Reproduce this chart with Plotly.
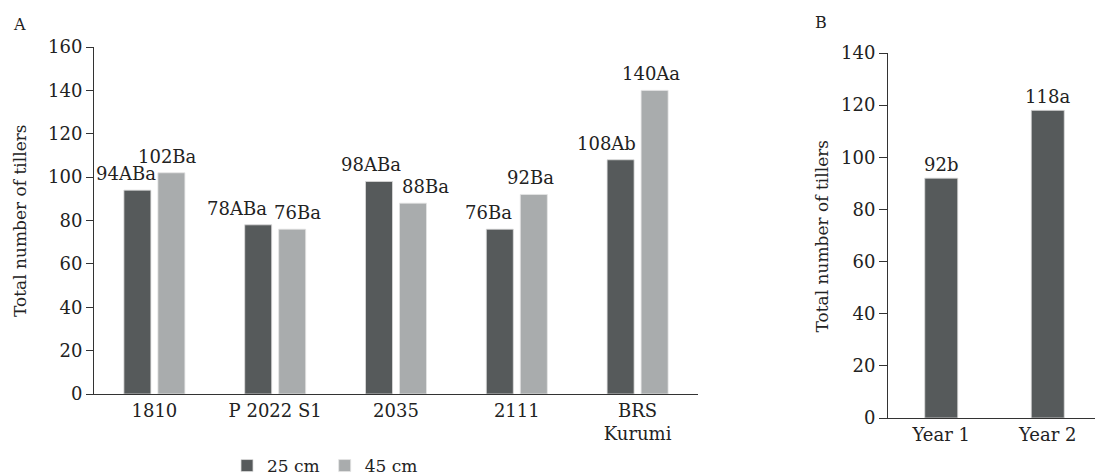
import plotly.graph_objects as go

# Panel A data
cultivars = ["1810", "P 2022 S1", "2035", "2111", "BRS<br>Kurumi"]
tillers_25cm = [94, 78, 98, 76, 108]
tillers_45cm = [102, 76, 88, 92, 140]
labels_25cm = ["94ABa", "78ABa", "98ABa", "76Ba", "108Ab"]
labels_45cm = ["102Ba", "76Ba", "88Ba", "92Ba", "140Aa"]

# Panel B data
years = ["Year 1", "Year 2"]
tillers_year = [92, 118]
labels_year = ["92b", "118a"]

# page body has an 8px margin -> figure is drawn at (8, 8)
OFF = 8
W, H = 1103 - OFF, 475 - OFF


def fx(px):
    return (px - OFF) / W


def fy(py):
    return 1 - (py - OFF) / H


FONT = "DejaVu Serif"
DARK = "#565a5b"
LIGHT = "#a9acad"
AXIS = "#333333"
TXT = "#222222"

# horizontal nudges of the panel A value labels (px, styling only)
shift_25 = [-28, -38, -25, -28, -31]
shift_45 = [13, 22, 29, 14, 13]

fig = go.Figure()
fig.add_trace(go.Bar(x=cultivars, y=tillers_25cm, name="25 cm",
                     marker=dict(color=DARK, line=dict(color="#dcdcdc", width=0.8)),
                     xaxis="x", yaxis="y"))
fig.add_trace(go.Bar(x=cultivars, y=tillers_45cm, name="45 cm",
                     marker=dict(color=LIGHT, line=dict(color="#e4e4e4", width=0.8)),
                     xaxis="x", yaxis="y"))
fig.add_trace(go.Bar(x=years, y=tillers_year, name="B", showlegend=False,
                     width=0.31, text=labels_year, textposition="outside",
                     constraintext="none", cliponaxis=False,
                     textfont=dict(family=FONT, size=18, color=TXT),
                     marker=dict(color=DARK, line=dict(color="#dcdcdc", width=0.8)),
                     xaxis="x2", yaxis="y2"))

annotations = []
for i, (v, t, s) in enumerate(zip(tillers_25cm, labels_25cm, shift_25)):
    annotations.append(dict(x=i, y=v, xref="x", yref="y", text=t, showarrow=False,
                            yanchor="bottom", xshift=s, yshift=4,
                            font=dict(family=FONT, size=18, color=TXT)))
for i, (v, t, s) in enumerate(zip(tillers_45cm, labels_45cm, shift_45)):
    annotations.append(dict(x=i, y=v, xref="x", yref="y", text=t, showarrow=False,
                            yanchor="bottom", xshift=s, yshift=4,
                            font=dict(family=FONT, size=18, color=TXT)))

# panel letters
annotations.append(dict(x=fx(19), y=fy(24), xref="paper", yref="paper", text="A",
                        showarrow=False, xanchor="center", yanchor="middle",
                        font=dict(family=FONT, size=16, color=TXT)))
annotations.append(dict(x=fx(821), y=fy(22), xref="paper", yref="paper", text="B",
                        showarrow=False, xanchor="center", yanchor="middle",
                        font=dict(family=FONT, size=16, color=TXT)))

# axis titles
yA0, yA1 = fy(394), fy(47)
yB0, yB1 = fy(418), fy(53)
annotations.append(dict(x=fx(19.5), y=(yA0 + yA1) / 2, xref="paper", yref="paper",
                        text="Total number of tillers", textangle=-90, showarrow=False,
                        xanchor="center", yanchor="middle",
                        font=dict(family=FONT, size=17, color=TXT)))
annotations.append(dict(x=fx(821), y=(yB0 + yB1) / 2, xref="paper", yref="paper",
                        text="Total number of tillers", textangle=-90, showarrow=False,
                        xanchor="center", yanchor="middle",
                        font=dict(family=FONT, size=17, color=TXT)))

axis_common = dict(showgrid=False, zeroline=False, showline=True, linecolor=AXIS,
                   linewidth=1, tickfont=dict(family=FONT, size=18, color=TXT))

fig.update_layout(
    width=W, height=H,
    margin=dict(l=0, r=0, t=0, b=0, autoexpand=False),
    paper_bgcolor="white", plot_bgcolor="white",
    barmode="group", bargap=0.437, bargroupgap=0.206,
    showlegend=True,
    legend=dict(orientation="h", x=fx(325), xanchor="center", y=fy(466), yanchor="middle",
                font=dict(family=FONT, size=17, color=TXT), traceorder="normal",
                itemwidth=30),
    xaxis=dict(domain=[fx(94), fx(698)], anchor="y", type="category",
               range=[-0.5, len(cultivars) - 0.5], ticks="", **axis_common),
    yaxis=dict(domain=[yA0, yA1], anchor="x", range=[0, 160], tickvals=list(range(0, 161, 20)),
               ticks="outside", ticklen=7, tickcolor=AXIS, **axis_common),
    xaxis2=dict(domain=[fx(888), fx(1101)], anchor="y2", type="category",
                range=[-0.5, len(years) - 0.5], ticks="", **axis_common),
    yaxis2=dict(domain=[yB0, yB1], anchor="x2", range=[0, 140], tickvals=list(range(0, 141, 20)),
                ticks="outside", ticklen=8, tickcolor=AXIS, **axis_common),
    annotations=annotations,
)

fig.write_html("out.html")
